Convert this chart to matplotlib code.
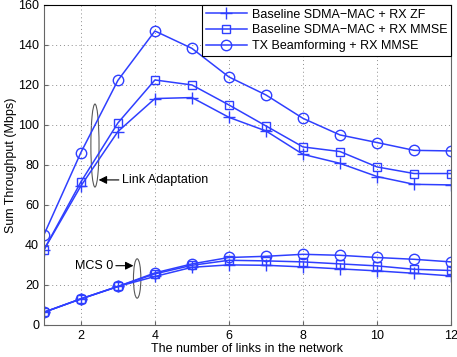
import numpy as np
import matplotlib
matplotlib.use("Agg")
import matplotlib.pyplot as plt
from matplotlib.patches import Ellipse

plt.rcParams['font.family'] = ['Liberation Sans', 'DejaVu Sans']
plt.rcParams['font.size'] = 9

links = np.arange(1, 13)

# link adaptation
la_zf = [37.5, 69.5, 96.7, 113.2, 113.7, 103.8, 97.0, 85.3, 80.8, 74.2, 70.3, 70.0]
la_mmse = [37.5, 71.5, 101.0, 122.5, 120.0, 110.0, 99.5, 89.0, 86.7, 79.0, 75.7, 75.7]
la_bf = [45.0, 86.2, 122.3, 147.0, 138.3, 124.0, 115.0, 103.3, 95.0, 91.2, 87.3, 87.0]

# MCS 0
mcs_zf = [6.3, 13.0, 19.2, 24.2, 28.8, 30.0, 29.8, 29.0, 28.0, 27.0, 25.8, 24.5]
mcs_mmse = [6.3, 13.0, 19.2, 25.5, 29.8, 32.3, 32.0, 31.5, 30.5, 29.5, 27.8, 27.2]
mcs_bf = [6.3, 13.0, 19.2, 26.0, 30.5, 33.7, 34.3, 35.3, 34.8, 33.7, 32.8, 31.5]

labels = ["Baseline SDMA\u2212MAC + RX ZF",
          "Baseline SDMA\u2212MAC + RX MMSE",
          "TX Beamforming + RX MMSE"]

BLUE = "#2f3fff"


def plot():
    fig = plt.figure(figsize=(4.57, 3.57), dpi=100)
    ax = fig.add_axes([0.096, 0.09, 0.891, 0.896])

    style = dict(color=BLUE, linewidth=1.1, markerfacecolor="none",
                 markeredgecolor=BLUE, markeredgewidth=1.0)
    ax.plot(links, la_zf, marker="+", markersize=9, label=labels[0], **style)
    ax.plot(links, la_mmse, marker="s", markersize=6, label=labels[1], **style)
    ax.plot(links, la_bf, marker="o", markersize=7.5, label=labels[2], **style)
    ax.plot(links, mcs_zf, marker="+", markersize=9, **style)
    ax.plot(links, mcs_mmse, marker="s", markersize=6, **style)
    ax.plot(links, mcs_bf, marker="o", markersize=7.5, **style)

    # annotations
    ax.add_patch(Ellipse((2.38, 89.7), 0.22, 41.5, fill=False,
                         edgecolor="0.35", linewidth=0.8))
    ax.annotate("Link Adaptation", xy=(2.48, 72.5), xytext=(3.1, 72.5),
                va="center", ha="left", fontsize=9,
                arrowprops=dict(arrowstyle="-|>", color="black", lw=0.8,
                                mutation_scale=12, shrinkA=0, shrinkB=0))
    ax.add_patch(Ellipse((3.52, 23.2), 0.2, 19.7, fill=False,
                         edgecolor="0.35", linewidth=0.8))
    ax.annotate("MCS 0", xy=(3.42, 29.6), xytext=(2.87, 29.6),
                va="center", ha="right", fontsize=9,
                arrowprops=dict(arrowstyle="-|>", color="black", lw=0.8,
                                mutation_scale=12, shrinkA=0, shrinkB=0))

    ax.set_xlim(1, 12)
    ax.set_ylim(0, 160)
    ax.set_xticks([2, 4, 6, 8, 10, 12])
    ax.set_yticks(np.arange(0, 161, 20))
    ax.grid(True, linestyle=(0, (1, 3)), color="0.55", linewidth=0.7)
    ax.tick_params(direction="in", length=3, color="0.4", labelsize=9)
    for side in ["left", "bottom", "right"]:
        ax.spines[side].set_color("0.4")
    ax.spines["top"].set_color("black")

    ax.set_xlabel("The number of links in the network", fontsize=9, labelpad=1)
    ax.set_ylabel("Sum Throughput (Mbps)", fontsize=9, labelpad=1)

    leg = ax.legend(loc="upper right", fontsize=9, handlelength=3.3,
                    borderaxespad=0.0, fancybox=False, framealpha=1,
                    labelspacing=0.3, handletextpad=0.4, borderpad=0.3)
    leg.get_frame().set_edgecolor("black")
    leg.get_frame().set_linewidth(0.8)

    fig.savefig("out.png", dpi=100)


if __name__ == "__main__":
    plot()
